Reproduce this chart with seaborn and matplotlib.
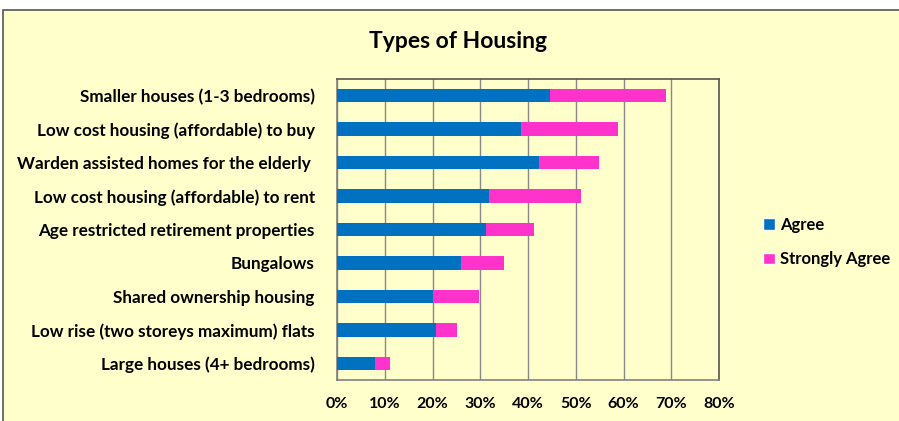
import numpy as np
import pandas as pd
import matplotlib
matplotlib.use("Agg")
import matplotlib.pyplot as plt
import seaborn as sns
from matplotlib.patches import Patch, Rectangle

categories = ['Smaller houses (1-3 bedrooms)',
              'Low cost housing (affordable) to buy',
              'Warden assisted homes for the elderly ',
              'Low cost housing (affordable) to rent',
              'Age restricted retirement properties',
              'Bungalows',
              'Shared ownership housing',
              'Low rise (two storeys maximum) flats',
              'Large houses (4+ bedrooms)']
agree = [44.7, 38.5, 42.2, 31.8, 31.1, 26.0, 20.2, 20.7, 7.9]
strongly_agree = [24.3, 20.3, 12.7, 19.2, 10.2, 9.0, 9.5, 4.5, 3.3]
xticks = [0, 10, 20, 30, 40, 50, 60, 70, 80]

bg = '#FFFFCC'
blue = '#0070C0'
pink = '#FF33CC'

df = pd.DataFrame({'cat': categories, 'Agree': agree, 'Strongly Agree': strongly_agree})
df['total'] = df['Agree'] + df['Strongly Agree']

sns.set_style("white")
plt.rcParams['font.family'] = ['Lato', 'DejaVu Sans']
plt.rcParams['text.color'] = 'black'
plt.rcParams['xtick.color'] = 'black'
plt.rcParams['ytick.color'] = 'black'

fig = plt.figure(figsize=(8.99, 4.21), dpi=100)
fig.patch.set_facecolor('white')
# chart area frame (bottom and right run off the image)
fig.patches.append(Rectangle((3 / 899, -0.1), 1, 1.1 - 10 / 421, transform=fig.transFigure,
                             facecolor=bg, edgecolor='#555555', linewidth=1.2, zorder=-5))

ax = fig.add_axes([337 / 899, 1 - 380 / 421, 382 / 899, 301 / 421])
ax.set_zorder(2)
ax.set_facecolor(bg)

sns.barplot(data=df, x='total', y='cat', color=pink, width=0.4, ax=ax,
            saturation=1, errorbar=None, linewidth=0, zorder=3)
sns.barplot(data=df, x='Agree', y='cat', color=blue, width=0.4, ax=ax,
            saturation=1, errorbar=None, linewidth=0, zorder=4)

ax.set_xlim(0, 80)
ax.set_ylim(len(categories) - 0.5, -0.5)
ax.set_xticks(xticks)
ax.set_xticklabels([f'{v}%' for v in xticks], fontsize=11.5, fontweight='bold')
ax.set_yticks(range(len(categories)))
ax.set_yticklabels(categories, fontsize=12.3, fontweight='bold')
ax.set_yticks(np.arange(-0.5, len(categories), 1), minor=True)
ax.tick_params(axis='y', which='major', length=0, pad=16)
ax.tick_params(axis='y', which='minor', length=4, color='#808080', width=1, direction='out')
ax.tick_params(axis='x', length=4, color='#808080', width=1, direction='out', pad=8)
ax.set_xlabel('')
ax.set_ylabel('')
ax.grid(axis='x', color='#888888', linewidth=1, zorder=1)
ax.set_axisbelow(True)
for side in ['left', 'bottom']:
    ax.spines[side].set_color('#808080')
    ax.spines[side].set_linewidth(1.2)
for side in ['top', 'right']:
    ax.spines[side].set_color('#555555')
    ax.spines[side].set_linewidth(1.2)

fig.text(458 / 899, 1 - 42 / 421, 'Types of Housing', ha='center', va='center',
         fontsize=16.5, fontweight='bold')

handles = [Patch(facecolor=blue, label='Agree'), Patch(facecolor=pink, label='Strongly Agree')]
leg = fig.legend(handles=handles, loc='center left', bbox_to_anchor=(748 / 899, 1 - 242 / 421),
                 frameon=False, handlelength=0.7, handleheight=0.7, handletextpad=0.35,
                 labelspacing=1.1, prop={'weight': 'bold', 'size': 12})

fig.savefig('out.png', dpi=100, facecolor=fig.get_facecolor())
